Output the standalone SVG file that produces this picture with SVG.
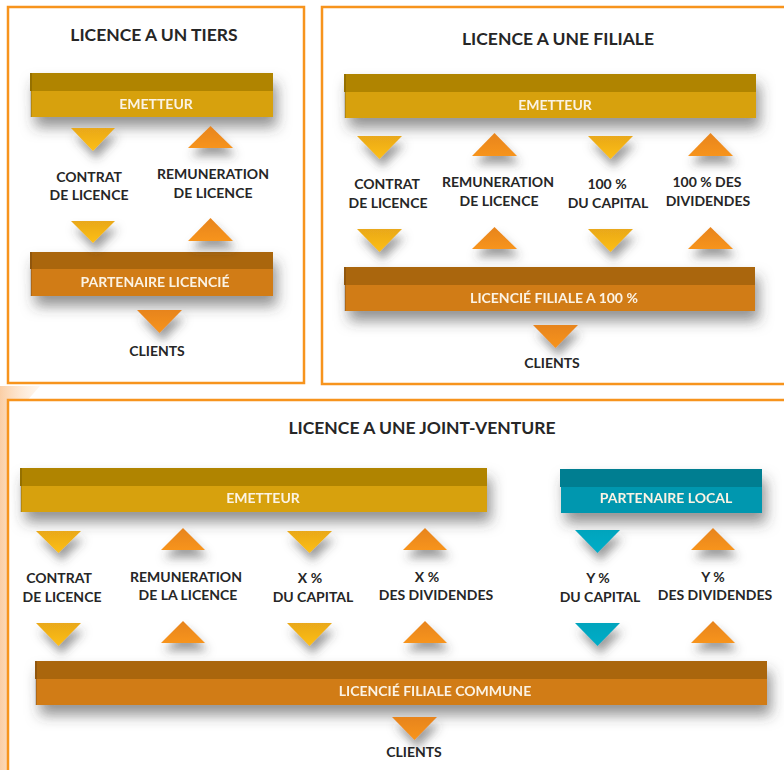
<svg xmlns="http://www.w3.org/2000/svg" width="784" height="770" viewBox="0 0 784 770">
<defs>
<filter id="sh" x="-20%" y="-80%" width="140%" height="300%">
<feDropShadow dx="4" dy="10" stdDeviation="7" flood-color="#3a3a3a" flood-opacity="0.55"/>
</filter>
<filter id="tsh" x="-50%" y="-50%" width="200%" height="250%">
<feDropShadow dx="3" dy="8" stdDeviation="5" flood-color="#3a3a3a" flood-opacity="0.5"/>
</filter>
<linearGradient id="gy" x1="0" y1="0" x2="0" y2="1"><stop offset="0" stop-color="#E9A81A"/><stop offset="1" stop-color="#FDBF16"/></linearGradient>
<linearGradient id="go" x1="0" y1="0" x2="0" y2="1"><stop offset="0" stop-color="#E7841F"/><stop offset="1" stop-color="#F7941E"/></linearGradient>
<linearGradient id="gt" x1="0" y1="0" x2="0" y2="1"><stop offset="0" stop-color="#05A4BD"/><stop offset="1" stop-color="#02ADC7"/></linearGradient>
<linearGradient id="glow" x1="0" y1="0" x2="1" y2="0"><stop offset="0" stop-color="#F9C28F" stop-opacity="0.8"/><stop offset="1" stop-color="#FDE5CC" stop-opacity="0.3"/></linearGradient>
<style>
.panel{fill:#fff;stroke:#F7941D;stroke-width:2.5}
.title{font-family:Lato,"Liberation Sans",sans-serif;font-weight:bold;font-size:17.5px;fill:#262626;text-anchor:middle}
.lbl{font-family:Lato,"Liberation Sans",sans-serif;font-weight:bold;font-size:14px;fill:#262626;text-anchor:middle}
.btxt{font-family:Lato,"Liberation Sans",sans-serif;font-weight:bold;font-size:14px;fill:#FBF3E4;text-anchor:middle}
.gtop{fill:#B08405}.gfront{fill:#D7A110}
.otop{fill:#AA660D}.ofront{fill:#D17C19}
.ttop{fill:#027E91}.tfront{fill:#0497AF}
.edge{fill:#000;opacity:0.15}
.ty{fill:url(#gy)}.to{fill:url(#go)}.tt{fill:url(#gt)}
</style>
</defs>
<rect width="784" height="770" fill="#fff"/>
<polygon points="0,386 40,386 10,420 10,770 0,770" fill="url(#glow)"/>

<!-- panels -->
<g id="panel-tiers">
<rect class="panel" x="8" y="7" width="296" height="376"/>
<text class="title" x="154" y="41">LICENCE A UN TIERS</text>
</g>
<g id="panel-filiale">
<rect class="panel" x="322" y="7" width="480" height="377"/>
<text class="title" x="558" y="45">LICENCE A UNE FILIALE</text>
</g>
<g id="panel-jv">
<rect class="panel" x="8" y="400" width="800" height="400"/>
<text class="title" x="422" y="434">LICENCE A UNE JOINT-VENTURE</text>
</g>

<!-- bars -->
<g id="emetteur-1" filter="url(#sh)">
<rect class="gtop" x="30" y="73" width="243" height="18"/>
<rect class="gfront" x="31" y="91" width="242" height="26"/>
<rect class="edge" x="30" y="73" width="2" height="44"/>
<text class="btxt" x="156" y="109">EMETTEUR</text>
</g>
<g id="partenaire-licencie" filter="url(#sh)">
<rect class="otop" x="30" y="252" width="243" height="17"/>
<rect class="ofront" x="31" y="269" width="242" height="27"/>
<rect class="edge" x="30" y="252" width="2" height="44"/>
<text class="btxt" x="155" y="287">PARTENAIRE LICENCIÉ</text>
</g>
<g id="emetteur-2" filter="url(#sh)">
<rect class="gtop" x="344" y="74" width="412" height="18"/>
<rect class="gfront" x="345" y="92" width="411" height="26"/>
<rect class="edge" x="344" y="74" width="2" height="44"/>
<text class="btxt" x="555" y="110">EMETTEUR</text>
</g>
<g id="licencie-filiale" filter="url(#sh)">
<rect class="otop" x="344" y="267" width="411" height="18"/>
<rect class="ofront" x="345" y="285" width="410" height="26"/>
<rect class="edge" x="344" y="267" width="2" height="44"/>
<text class="btxt" x="554" y="303">LICENCIÉ FILIALE A 100 %</text>
</g>
<g id="emetteur-3" filter="url(#sh)">
<rect class="gtop" x="20" y="468" width="467" height="18"/>
<rect class="gfront" x="21" y="486" width="466" height="26"/>
<rect class="edge" x="20" y="468" width="2" height="44"/>
<text class="btxt" x="263" y="503">EMETTEUR</text>
</g>
<g id="partenaire-local" filter="url(#sh)">
<rect class="ttop" x="560" y="469" width="202" height="18"/>
<rect class="tfront" x="561" y="487" width="201" height="26"/>
<text class="btxt" x="666" y="503">PARTENAIRE LOCAL</text>
</g>
<g id="licencie-commune" filter="url(#sh)">
<rect class="otop" x="35" y="661" width="732" height="18"/>
<rect class="ofront" x="36" y="679" width="731" height="26"/>
<rect class="edge" x="35" y="661" width="2" height="44"/>
<text class="btxt" x="435" y="696">LICENCIÉ FILIALE COMMUNE</text>
</g>

<!-- labels -->
<g id="labels-1">
<text class="lbl" x="89" y="182">CONTRAT</text>
<text class="lbl" x="89" y="200">DE LICENCE</text>
<text class="lbl" x="213" y="179">REMUNERATION</text>
<text class="lbl" x="213" y="198">DE LICENCE</text>
<text class="lbl" x="157" y="356">CLIENTS</text>
</g>
<g id="labels-2">
<text class="lbl" x="387" y="189">CONTRAT</text>
<text class="lbl" x="388" y="208">DE LICENCE</text>
<text class="lbl" x="498" y="187">REMUNERATION</text>
<text class="lbl" x="499" y="206">DE LICENCE</text>
<text class="lbl" x="607" y="189">100 %</text>
<text class="lbl" x="608" y="208">DU CAPITAL</text>
<text class="lbl" x="707" y="187">100 % DES</text>
<text class="lbl" x="708" y="206">DIVIDENDES</text>
<text class="lbl" x="552" y="368">CLIENTS</text>
</g>
<g id="labels-3">
<text class="lbl" x="59" y="583">CONTRAT</text>
<text class="lbl" x="62" y="602">DE LICENCE</text>
<text class="lbl" x="186" y="582">REMUNERATION</text>
<text class="lbl" x="188" y="600">DE LA LICENCE</text>
<text class="lbl" x="310" y="583">X %</text>
<text class="lbl" x="313" y="602">DU CAPITAL</text>
<text class="lbl" x="427" y="582">X %</text>
<text class="lbl" x="436" y="600">DES DIVIDENDES</text>
<text class="lbl" x="598" y="583">Y %</text>
<text class="lbl" x="600" y="602">DU CAPITAL</text>
<text class="lbl" x="713" y="582">Y %</text>
<text class="lbl" x="715" y="600">DES DIVIDENDES</text>
<text class="lbl" x="414" y="757">CLIENTS</text>
</g>

<!-- connectors (arrow triangles) -->
<g id="connectors" filter="url(#tsh)">
<polygon class="ty" points="71,128 115,128 93,151"/>
<polygon class="to" points="188,148 233,148 210.5,126"/>
<polygon class="ty" points="71,221 115,221 93,243"/>
<polygon class="to" points="188,241 233,241 210.5,218"/>
<polygon class="to" points="137,310 182,310 159.5,333"/>

<polygon class="ty" points="357,136 402,136 379.5,159"/>
<polygon class="to" points="472,156 517,156 494.5,133"/>
<polygon class="ty" points="588,136 633,136 610.5,159"/>
<polygon class="to" points="688,156 733,156 710.5,133"/>
<polygon class="ty" points="357,229 402,229 379.5,252"/>
<polygon class="to" points="472,249 517,249 494.5,227"/>
<polygon class="ty" points="588,229 633,229 610.5,252"/>
<polygon class="to" points="688,249 733,249 710.5,227"/>
<polygon class="to" points="533,325 578,325 555.5,348"/>

<polygon class="ty" points="36,531 81,531 58.5,553"/>
<polygon class="to" points="161,550 205,550 183,528"/>
<polygon class="ty" points="287,531 332,531 309.5,553"/>
<polygon class="to" points="403,550 447,550 425,528"/>
<polygon class="tt" points="575,530 620,530 597.5,553"/>
<polygon class="to" points="691,550 735,550 713,528"/>
<polygon class="ty" points="36,623 81,623 58.5,646"/>
<polygon class="to" points="161,643 205,643 183,621"/>
<polygon class="ty" points="287,623 332,623 309.5,646"/>
<polygon class="to" points="403,643 447,643 425,621"/>
<polygon class="tt" points="575,623 620,623 597.5,646"/>
<polygon class="to" points="691,643 735,643 713,621"/>
<polygon class="to" points="392,717 437,717 414.5,740"/>
</g>
</svg>
